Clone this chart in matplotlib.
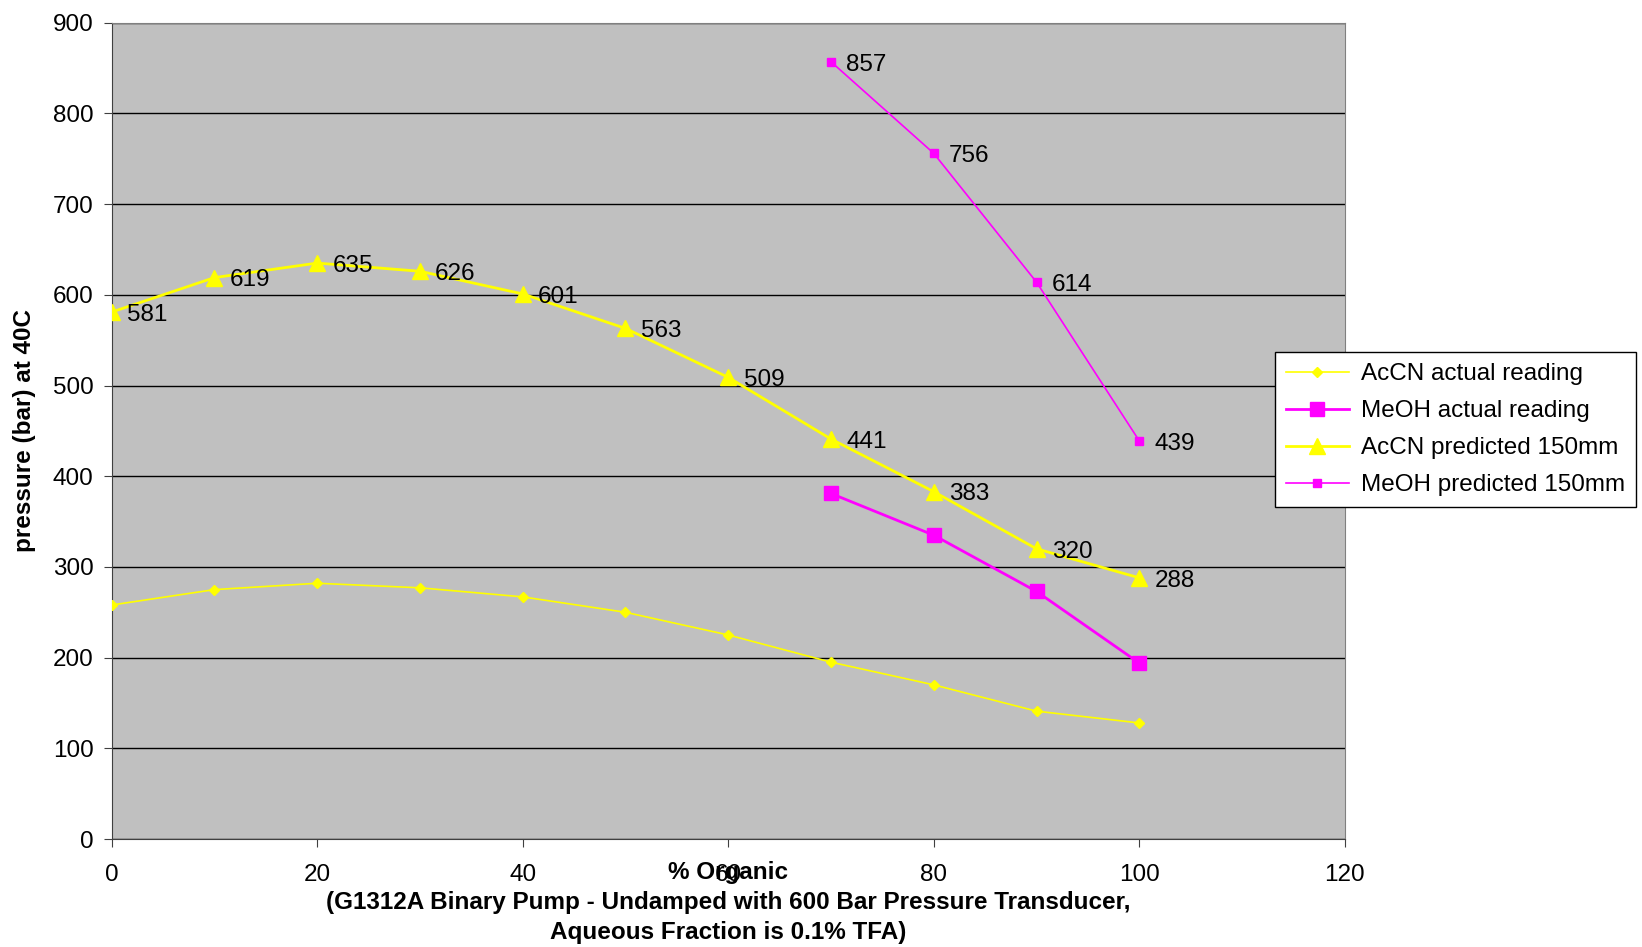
import matplotlib
matplotlib.use('Agg')
import matplotlib.pyplot as plt

plt.rcParams['font.family'] = ['Liberation Sans', 'DejaVu Sans']

organic = [0, 10, 20, 30, 40, 50, 60, 70, 80, 90, 100]
acn_actual = [258, 275, 282, 277, 267, 250, 225, 195, 170, 141, 128]
acn_predicted = [581, 619, 635, 626, 601, 563, 509, 441, 383, 320, 288]

meoh_x = [70, 80, 90, 100]
meoh_actual = [381, 335, 273, 194]
meoh_predicted = [857, 756, 614, 439]

yellow = '#FFFF00'
magenta = '#FF00FF'

fig = plt.figure(figsize=(16.42, 9.47), dpi=100)
ax = fig.add_axes([0.068, 0.114, 0.751, 0.862])
ax.set_facecolor('#C0C0C0')

ax.plot(organic, acn_actual, color=yellow, lw=1.2, marker='D', ms=5,
        label='AcCN actual reading', zorder=3)
ax.plot(meoh_x, meoh_actual, color=magenta, lw=2, marker='s', ms=10,
        label='MeOH actual reading', zorder=3)
ax.plot(organic, acn_predicted, color=yellow, lw=2, marker='^', ms=11,
        label='AcCN predicted 150mm', zorder=3)
ax.plot(meoh_x, meoh_predicted, color=magenta, lw=1.2, marker='s', ms=6,
        label='MeOH predicted 150mm', zorder=3)

for x, y in zip(organic, acn_predicted):
    ax.annotate(str(y), (x, y), xytext=(11, -2), textcoords='offset points',
                va='center', ha='left', fontsize=17.5, zorder=4)
for x, y in zip(meoh_x, meoh_predicted):
    ax.annotate(str(y), (x, y), xytext=(11, -2), textcoords='offset points',
                va='center', ha='left', fontsize=17.5, zorder=4)

ax.set_xlim(0, 120)
ax.set_ylim(0, 900)
ax.set_xticks(range(0, 121, 20))
ax.set_yticks(range(0, 901, 100))
ax.tick_params(labelsize=17.5, direction='out', length=6, color='#404040')
ax.tick_params(axis='y', pad=7)
ax.tick_params(axis='x', pad=12)
ax.yaxis.grid(True, color='black', lw=1)
ax.set_axisbelow(True)
for side in ['top', 'right']:
    ax.spines[side].set_color('#808080')
for side in ['left', 'bottom']:
    ax.spines[side].set_color('#404040')

ax.set_ylabel('pressure (bar) at 40C', fontsize=17.5, fontweight='bold', labelpad=12)
ax.set_xlabel('% Organic\n(G1312A Binary Pump - Undamped with 600 Bar Pressure Transducer,\n'
              'Aqueous Fraction is 0.1% TFA)', fontsize=17.5, fontweight='bold',
              labelpad=-18, linespacing=1.4)

leg = fig.legend(loc='upper left', bbox_to_anchor=(0.769, 0.641), fontsize=17.5,
                 frameon=True, fancybox=False, edgecolor='black', framealpha=1,
                 handlelength=2.6, handletextpad=0.5, borderpad=0.45, labelspacing=0.62)
leg.get_frame().set_linewidth(1)

fig.savefig('out.png', dpi=100)
